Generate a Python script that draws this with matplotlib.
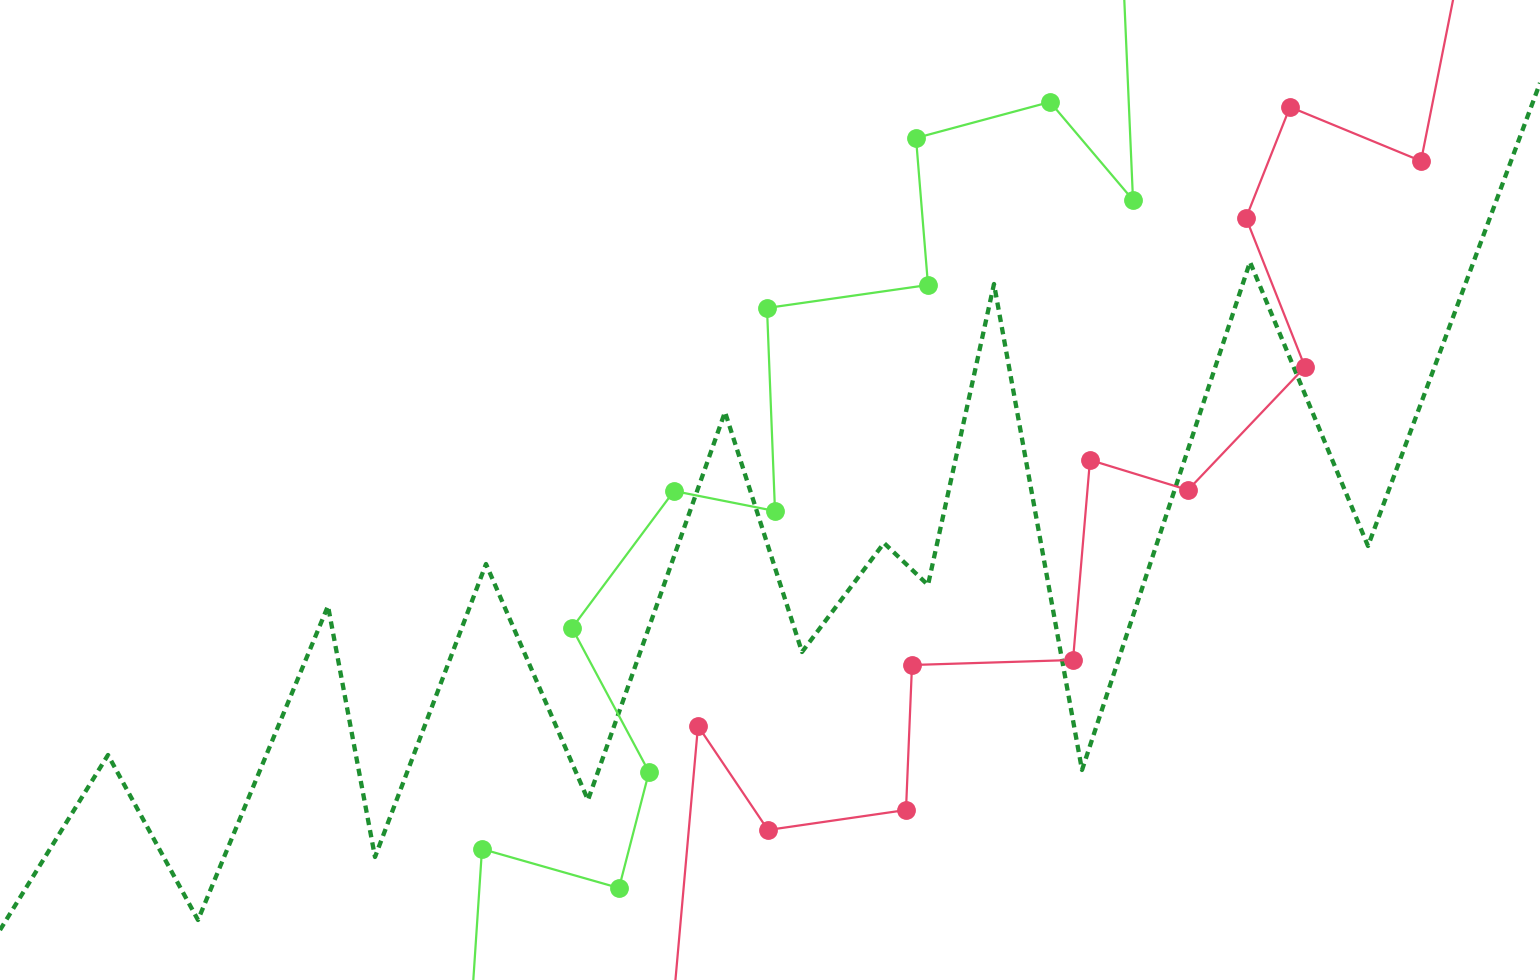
import matplotlib.pyplot as plt

# dashed zig-zag trend (pixel coordinates)
trend_x = [0, 108, 198, 328, 375, 486, 588, 725, 802, 884, 928, 994, 1082, 1250, 1368, 1540]
trend_y = [930, 755, 920, 606, 857, 564, 800, 412, 652, 543, 585, 284, 770, 262, 546, 83]

# light green series, first and last points run off the canvas
green_x = [470, 482, 619, 649, 572, 674, 775, 767, 928, 916, 1050, 1133, 1123]
green_y = [1030, 849, 888, 772, 628, 491, 511, 308, 285, 138, 102, 200, -30]

# red series
red_x = [671, 698, 768, 906, 912, 1073, 1090, 1188, 1305, 1246, 1290, 1421, 1459]
red_y = [1030, 726, 830, 810, 665, 660, 460, 490, 367, 218, 107, 161, -30]

fig = plt.figure(figsize=(15.4, 9.8), dpi=100)
ax = fig.add_axes([0, 0, 1, 1])

ax.plot(trend_x, trend_y, color='#1e8f30', lw=3.1, linestyle=(0, (1.7, 1.2)), zorder=1)
ax.plot(green_x, green_y, color='#5fe650', lw=1.6, marker='o', ms=12.5,
        markevery=slice(1, -1), zorder=2)
ax.plot(red_x, red_y, color='#e8466c', lw=1.6, marker='o', ms=12.5,
        markevery=slice(1, -1), zorder=2)

ax.set_xlim(0, 1540)
ax.set_ylim(980, 0)
ax.axis('off')

plt.savefig('out.png', dpi=100, facecolor='white')
